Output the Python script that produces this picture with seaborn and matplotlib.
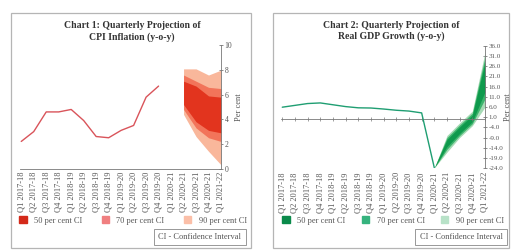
import numpy as np
import matplotlib
matplotlib.use('Agg')
import matplotlib.pyplot as plt
from matplotlib.patches import Patch, Rectangle
import seaborn as sns

# x-axis categories
quarters = ['Q1 2017-18', 'Q2 2017-18', 'Q3 2017-18', 'Q4 2017-18',
            'Q1 2018-19', 'Q2 2018-19', 'Q3 2018-19', 'Q4 2018-19',
            'Q1 2019-20', 'Q2 2019-20', 'Q3 2019-20', 'Q4 2019-20',
            'Q1 2020-21', 'Q2 2020-21', 'Q3 2020-21', 'Q4 2020-21',
            'Q1 2021-22']

# Chart 1: CPI inflation (actual, Q1 2017-18 .. Q4 2019-20)
cpi_actual = [2.2, 3.0, 4.6, 4.6, 4.8, 3.9, 2.6, 2.5, 3.1, 3.5, 5.8, 6.7]
# CPI fan bands, Q2 2020-21 .. Q1 2021-22
cpi_fan_start = 13
cpi_90_hi = [8.1, 8.1, 7.6, 8.0]
cpi_70_hi = [7.6, 7.1, 6.6, 6.5]
cpi_50_hi = [7.1, 6.7, 5.9, 5.8]
cpi_50_lo = [5.2, 3.8, 3.1, 2.9]
cpi_70_lo = [4.8, 3.3, 2.5, 2.2]
cpi_90_lo = [4.4, 2.6, 1.4, 0.3]

# Chart 2: real GDP growth (actual, Q1 2017-18 .. Q1 2020-21)
gdp_actual = [5.9, 6.8, 7.7, 8.0, 7.1, 6.2, 5.6, 5.5, 5.0, 4.4, 4.0, 3.1, -23.9]
# GDP fan bands, Q1 2020-21 .. Q1 2021-22
gdp_fan_start = 12
gdp_90_hi = [-23.9, -8.0, -1.8, 4.0, 33.0]
gdp_70_hi = [-23.9, -9.0, -2.8, 3.0, 30.5]
gdp_50_hi = [-23.9, -10.0, -3.8, 2.0, 28.0]
gdp_50_lo = [-23.9, -13.5, -7.0, -1.2, 13.5]
gdp_70_lo = [-23.9, -14.8, -8.0, -2.2, 10.0]
gdp_90_lo = [-23.9, -16.2, -9.0, -3.2, 6.0]

ci_labels = ['50 per cent CI', '70 per cent CI', '90 per cent CI']

sns.set_style('white')
plt.rcParams['font.family'] = ['Liberation Serif', 'DejaVu Serif']

W, H = 511, 250
fig = plt.figure(figsize=(W / 100, H / 100), dpi=100)


def fx(px):
    return px / W


def fy(py):
    return 1 - py / H


text_col = '#555555'
axis_col = '#777777'

# panel borders
for x0, x1 in [(11, 251), (273, 509)]:
    fig.add_artist(Rectangle((fx(x0), fy(248)), fx(x1 - x0), (248 - 13) / H,
                             transform=fig.transFigure, fill=False,
                             ec='#b5b5b5', lw=0.9))


def style_axes(ax, ylab_size):
    for s in ['top', 'left']:
        ax.spines[s].set_visible(False)
    ax.spines['right'].set_color(axis_col)
    ax.spines['right'].set_linewidth(0.6)
    ax.spines['bottom'].set_color(axis_col)
    ax.spines['bottom'].set_linewidth(0.6)
    ax.yaxis.tick_right()
    ax.yaxis.set_label_position('right')
    ax.set_xticks(range(len(quarters)))
    ax.set_xticklabels(quarters, rotation=90, fontsize=6, color=text_col)
    ax.tick_params(axis='y', direction='inout', length=3, width=0.6,
                   labelsize=ylab_size, labelcolor=text_col, color=axis_col, pad=1)
    ax.set_ylabel('Per cent', fontsize=6, color=text_col, labelpad=2)
    ax.set_xlim(-0.1, len(quarters) - 1)


# ---- Chart 1 ----
ax1 = fig.add_axes([fx(20), fy(168.5), fx(221 - 20), (168.5 - 45.5) / H])
red_bands = ['#f9b79b', '#f2745a', '#e2341e']
xf = np.arange(cpi_fan_start, cpi_fan_start + len(cpi_50_hi))
ax1.fill_between(xf, cpi_90_lo, cpi_90_hi, color=red_bands[0], lw=0)
ax1.fill_between(xf, cpi_70_lo, cpi_70_hi, color=red_bands[1], lw=0)
ax1.fill_between(xf, cpi_50_lo, cpi_50_hi, color=red_bands[2], lw=0)
sns.lineplot(x=np.arange(len(cpi_actual)), y=cpi_actual, ax=ax1,
             color='#d9545a', lw=1.0)
ax1.set_ylim(0, 10)
ax1.set_yticks(range(0, 11, 2))
style_axes(ax1, 5.5)
ax1.tick_params(axis='x', direction='inout', length=2.5, width=0.5,
                color=axis_col, pad=1)

fig.text(fx(132), fy(31.5), 'Chart 1: Quarterly Projection of\nCPI Inflation (y-o-y)',
         ha='center', va='center', fontsize=7, fontweight='bold',
         color='#333333', linespacing=1.3)

leg_red = ['#d42a1a', '#f07f80', '#fbbfa8']
fig.legend(handles=[Patch(color=c, label=l) for c, l in zip(leg_red, ci_labels)],
           bbox_to_anchor=(fx(16), fy(228), fx(250 - 16), 14 / H),
           loc='lower left', mode='expand', ncol=3, frameon=False,
           handlelength=0.9, handleheight=0.9, handletextpad=0.9,
           fontsize=6, borderaxespad=0, labelcolor=text_col)
fig.text(fx(200), fy(237), 'CI - Confidence Interval', ha='center', va='center',
         fontsize=6, color=text_col,
         bbox=dict(boxstyle='square,pad=0.5', fc='white', ec='#888888', lw=0.6))

# ---- Chart 2 ----
ax2 = fig.add_axes([fx(281), fy(168), fx(485 - 281), 122 / H])
green_bands = ['#a6dab5', '#3cb46c', '#0e994c']
xg = np.arange(gdp_fan_start, gdp_fan_start + len(gdp_50_hi))
ax2.fill_between(xg, gdp_90_lo, gdp_90_hi, color=green_bands[0], lw=0)
ax2.fill_between(xg, gdp_70_lo, gdp_70_hi, color=green_bands[1], lw=0)
ax2.fill_between(xg, gdp_50_lo, gdp_50_hi, color=green_bands[2], lw=0)
ax2.axhline(0, color=axis_col, lw=0.6, zorder=1)
ax2.plot(np.arange(len(quarters)), np.zeros(len(quarters)), ls='none',
         marker='|', ms=2.5, mew=0.5, color=axis_col, zorder=1)
sns.lineplot(x=np.arange(len(gdp_actual)), y=gdp_actual, ax=ax2,
             color='#1f9e72', lw=1.0, zorder=3)
ax2.set_ylim(-24, 36)
ax2.set_yticks(np.arange(-24, 37, 5))
ax2.set_yticklabels([f'{v:.1f}' for v in np.arange(-24, 37, 5)])
style_axes(ax2, 5)
ax2.spines['bottom'].set_visible(False)
ax2.tick_params(axis='x', length=0, pad=3)
ax2.yaxis.labelpad = 0.5

fig.text(fx(391), fy(31), 'Chart 2: Quarterly Projection of\nReal GDP Growth (y-o-y)',
         ha='center', va='center', fontsize=7, fontweight='bold',
         color='#333333', linespacing=1.3)

leg_green = ['#0a8a4a', '#36b37e', '#b8e2c8']
fig.legend(handles=[Patch(color=c, label=l) for c, l in zip(leg_green, ci_labels)],
           bbox_to_anchor=(fx(279), fy(228), fx(507 - 279), 14 / H),
           loc='lower left', mode='expand', ncol=3, frameon=False,
           handlelength=0.9, handleheight=0.9, handletextpad=0.9,
           fontsize=6, borderaxespad=0, labelcolor=text_col)
fig.text(fx(461), fy(237), 'CI - Confidence Interval', ha='center', va='center',
         fontsize=6, color=text_col,
         bbox=dict(boxstyle='square,pad=0.5', fc='white', ec='#888888', lw=0.6))

fig.savefig('out.png', dpi=100)
